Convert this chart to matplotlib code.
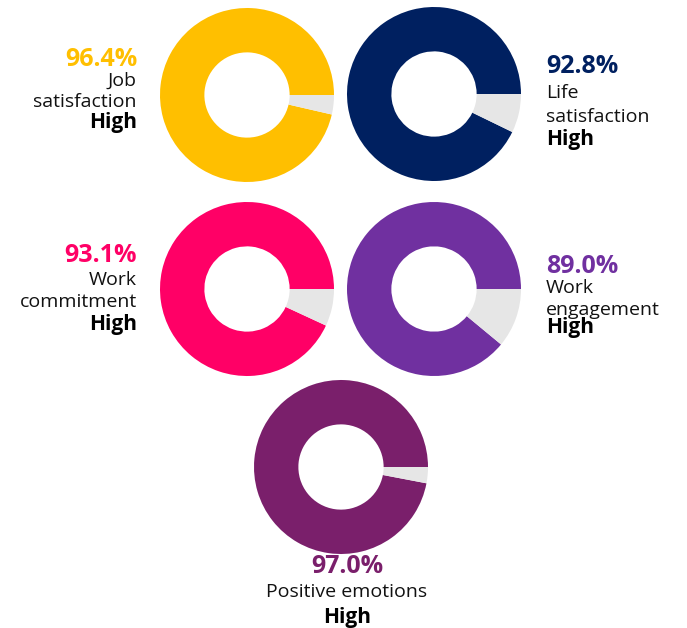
import matplotlib
matplotlib.use("Agg")
import matplotlib.pyplot as plt

categories = ["Job\nsatisfaction", "Life\nsatisfaction", "Work\ncommitment", "Work\nengagement", "Positive emotions"]
values = [96.4, 92.8, 93.1, 89.0, 97.0]
level = ["High", "High", "High", "High", "High"]
colors = ["#FFBF00", "#002060", "#FF0066", "#7030A0", "#7A1F6B"]
rest_color = "#E6E6E6"

W, H = 687, 628
fig = plt.figure(figsize=(W / 100, H / 100), dpi=100)
ax = fig.add_axes([0, 0, 1, 1])

centers = [(247, 95), (434, 94), (247, 289), (434, 289), (341, 467)]
R = 87
# text layout: (x, baseline of pct, alignment)
text_pos = [(137, 66, "right"), (546, 73, "left"), (137, 262, "right"), (546, 273, "left"), (347, 573, "center")]
line_gap = [(20, 41, 62), (25, 49, 72), (23, 45, 68), (20, 42, 60), (24, 0, 50)]

FONT = "Open Sans"
for i, v in enumerate(values):
    cx, cy = centers[i]
    ax.pie([v, 100 - v], colors=[colors[i], rest_color], startangle=0, counterclock=True,
           radius=R, center=(cx, H - cy), wedgeprops=dict(width=R * 0.51, linewidth=0),
           frame=True)
    x, yb, ha = text_pos[i]
    g = line_gap[i]
    ax.text(x, H - yb, f"{v:.1f}%", color=colors[i], fontsize=18, fontweight="bold",
            ha=ha, va="baseline", family=FONT)
    lines = categories[i].split("\n")
    for j, ln in enumerate(lines):
        ax.text(x, H - (yb + g[j]), ln, color="#111111", fontsize=14, ha=ha, va="baseline", family=FONT)
    ax.text(x, H - (yb + g[2]), level[i], color="#000000", fontsize=15, fontweight="bold",
            ha=ha, va="baseline", family=FONT)

ax.set_xlim(0, W)
ax.set_ylim(0, H)
ax.set_aspect("auto")
ax.axis("off")
fig.savefig("out.png", dpi=100)
